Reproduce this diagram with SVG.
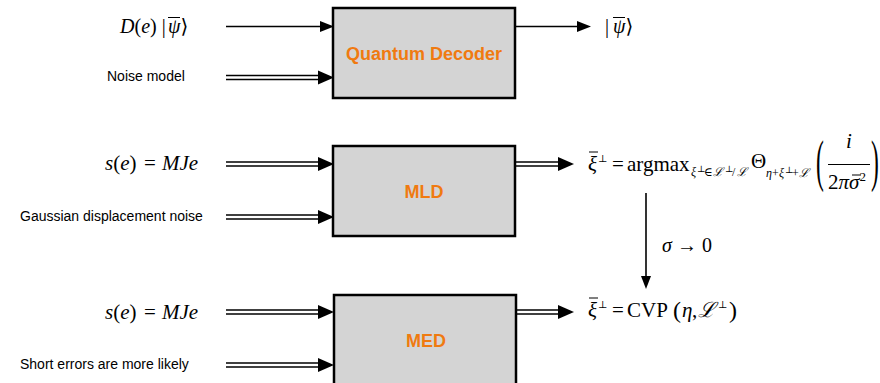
<svg xmlns="http://www.w3.org/2000/svg" width="880" height="383" viewBox="0 0 880 383">
<style>
.box{fill:#d4d4d4;stroke:#000;stroke-width:2.5}
.lbl{font-family:"Liberation Sans",Arial,sans-serif;font-size:18px;font-weight:bold;fill:#f07a10;text-anchor:middle}
.sans{font-family:"Liberation Sans",Arial,sans-serif;font-size:14px;fill:#000}
.m{font-family:"Liberation Serif","DejaVu Serif",serif;font-size:20px;fill:#000}
.i{font-style:italic}
.ln{stroke:#000;stroke-width:1.6;fill:none}
.dl{stroke:#000;stroke-width:1.3;fill:none}
.hd{fill:#000}
.bar{stroke:#000;stroke-width:1}
.s{font-size:12px}
.ss{font-size:9px}
.sup{font-size:10px}
</style>
<rect width="880" height="383" fill="#fff"/>
<g id="decoder">
<rect class="box" x="333" y="8" width="182" height="90"/>
<text class="lbl" x="424" y="60">Quantum Decoder</text>
</g>
<g id="mld">
<rect class="box" x="333" y="146" width="182" height="90"/>
<text class="lbl" x="424" y="198">MLD</text>
</g>
<g id="med">
<rect class="box" x="334" y="295" width="182" height="100"/>
<text class="lbl" x="426" y="347">MED</text>
</g>
<g id="connectors">
<line class="ln" x1="226" y1="26.5" x2="322" y2="26.5"/>
<polygon class="hd" points="320,21 334,26.5 320,32"/>
<line class="ln" x1="515" y1="26.5" x2="580" y2="26.5"/>
<polygon class="hd" points="577,21 591,26.5 577,32"/>
<g id="dbl1"><line class="dl" x1="226" y1="75.5" x2="322" y2="75.5"/><line class="dl" x1="226" y1="79.5" x2="322" y2="79.5"/><polygon class="hd" points="318,70.5 334,77.5 318,84.5"/></g>
<g id="dbl2"><line class="dl" x1="226" y1="162" x2="322" y2="162"/><line class="dl" x1="226" y1="166" x2="322" y2="166"/><polygon class="hd" points="318,157 334,164 318,171"/></g>
<g id="dbl3"><line class="dl" x1="226" y1="215" x2="322" y2="215"/><line class="dl" x1="226" y1="219" x2="322" y2="219"/><polygon class="hd" points="318,210 334,217 318,224"/></g>
<g id="dbl4"><line class="dl" x1="226" y1="310" x2="322" y2="310"/><line class="dl" x1="226" y1="314" x2="322" y2="314"/><polygon class="hd" points="318,305 334,312 318,319"/></g>
<g id="dbl5"><line class="dl" x1="226" y1="363" x2="322" y2="363"/><line class="dl" x1="226" y1="367" x2="322" y2="367"/><polygon class="hd" points="318,358 334,365 318,372"/></g>
<g id="dbl6"><line class="dl" x1="516" y1="162" x2="562" y2="162"/><line class="dl" x1="516" y1="166" x2="562" y2="166"/><polygon class="hd" points="558,157 574,164 558,171"/></g>
<g id="dbl7"><line class="dl" x1="516" y1="310" x2="562" y2="310"/><line class="dl" x1="516" y1="314" x2="562" y2="314"/><polygon class="hd" points="558,305 574,312 558,319"/></g>
<line class="ln" x1="646" y1="193" x2="646" y2="278"/>
<polygon class="hd" points="641,276 646,289 651,276"/>
</g>
<g id="labels">
<text class="m" x="120" y="33"><tspan class="i">D</tspan>(<tspan class="i">e</tspan>) |<tspan class="i" x="168">ψ</tspan>⟩</text>
<line class="bar" x1="168" y1="17.5" x2="180" y2="17.5"/>
<text class="sans" x="107" y="81">Noise model</text>
<text class="m" style="font-size:21px" x="105" y="170"><tspan class="i">s</tspan>(<tspan class="i">e</tspan>) <tspan x="144">=</tspan><tspan class="i" x="162">MJe</tspan></text>
<text class="sans" x="20" y="221">Gaussian displacement noise</text>
<text class="m" style="font-size:21px" x="105" y="319"><tspan class="i">s</tspan>(<tspan class="i">e</tspan>) <tspan x="144">=</tspan><tspan class="i" x="162">MJe</tspan></text>
<text class="sans" x="20" y="369">Short errors are more likely</text>
<text class="m" x="605" y="33">|<tspan class="i" x="613">ψ</tspan>⟩</text>
<line class="bar" x1="613" y1="17.5" x2="625" y2="17.5"/>
<text class="m" x="662" y="252"><tspan class="i">σ</tspan> → 0</text>
</g>
<g id="formula1">
<text class="m" style="font-size:21px" y="171"><tspan class="i" x="588">ξ</tspan><tspan class="sup" x="598" y="162">⊥</tspan><tspan x="612" y="171">=</tspan><tspan x="627">argmax</tspan><tspan class="s" y="176"><tspan class="i" x="691">ξ</tspan><tspan class="ss" x="697" y="172">⊥</tspan><tspan x="704" y="176">∈</tspan><tspan class="i" x="713">ℒ</tspan><tspan class="ss" x="725" y="172">⊥</tspan><tspan x="732" y="176">/</tspan><tspan class="i" x="737">ℒ</tspan></tspan><tspan x="751" y="168">Θ</tspan><tspan class="s" y="177"><tspan class="i" x="766">η</tspan><tspan x="772">+</tspan><tspan class="i" x="779">ξ</tspan><tspan class="ss" x="785" y="173">⊥</tspan><tspan x="792" y="177">+</tspan><tspan class="i" x="799">ℒ</tspan></tspan></text>
<line class="bar" x1="589" y1="152" x2="598" y2="152"/>
<text class="m" style="font-size:56px" transform="translate(816,180) scale(0.42,1)">(</text>
<text class="m" style="font-size:56px" transform="translate(871,180) scale(0.42,1)">)</text>
<text class="m i" style="font-size:21px" x="849" y="148" text-anchor="middle">i</text>
<line class="bar" x1="828" y1="164.5" x2="870" y2="164.5"/>
<text class="m" style="font-size:21px" x="847" y="189" text-anchor="middle">2<tspan class="i">πσ</tspan><tspan style="font-size:13px" dy="-8">2</tspan></text>
<line class="bar" x1="852" y1="175" x2="861" y2="175"/>
</g>
<g id="formula2">
<text class="m" style="font-size:21px" y="317"><tspan class="i" x="588">ξ</tspan><tspan class="sup" x="598" y="308">⊥</tspan><tspan x="612" y="317">=</tspan><tspan x="627">CVP</tspan><tspan style="font-size:24px" x="673" y="318">(</tspan><tspan class="i" x="682" y="317">η</tspan><tspan x="692">,</tspan><tspan class="i" x="698">ℒ</tspan><tspan class="sup" x="718" y="308">⊥</tspan><tspan style="font-size:24px" x="729" y="318">)</tspan></text>
<line class="bar" x1="589" y1="298" x2="598" y2="298"/>
</g>
</svg>
